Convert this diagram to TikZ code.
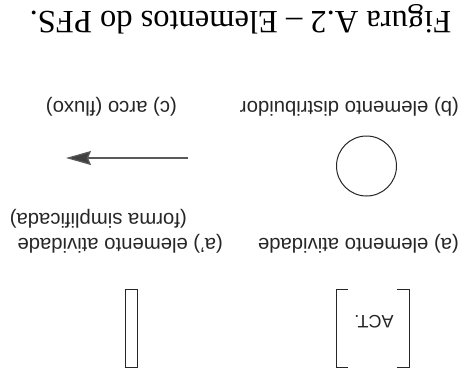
\documentclass[tikz,border=0pt]{standalone}
\usepackage{fontspec}
\setmainfont{Liberation Serif}
\setsansfont{Liberation Sans}
\usetikzlibrary{arrows.meta}
\begin{document}
\begin{tikzpicture}[x=1pt,y=-1pt,
  lbl/.style={font=\sffamily\fontsize{20.3}{24}\selectfont, rotate=180, inner sep=0pt, anchor=base west, text=black!85},
  ttl/.style={font=\rmfamily\fontsize{32.5}{38}\selectfont, rotate=180, inner sep=0pt, anchor=base},
  shp/.style={draw=black!85, line width=1pt}]
\fill[white] (0,0) rectangle (461,378);
\useasboundingbox (0,0) rectangle (461,378);
% title
\node[ttl] (title) at (240.5,11) {Figura A.2 -- Elementos do PFS.};
% labels
\node[lbl] (lb) at (459,101) {(b) elemento distribuidor};
\node[lbl] (lc) at (177,101) {(c) arco (fluxo)};
\node[lbl] (lf) at (187,213) {(forma simplificada)};
\node[lbl] (lap) at (223,238) {(a') elemento atividade};
\node[lbl] (la) at (459,238) {(a) elemento atividade};
% circle
\node[shp, circle, minimum size=60pt, inner sep=0pt] (dist) at (366.5,166) {};
% arrow
\coordinate (arrS) at (188,158);
\coordinate (arrE) at (66,158);
\draw[draw=black!65, line width=1.2pt, -{Stealth[length=25pt, width=14pt, inset=3pt, fill=black!75]}] (arrS) -- (arrE);
% bracket activity
\coordinate (bl1) at (348,289);
\coordinate (bl2) at (336,289);
\coordinate (bl3) at (336,367);
\coordinate (bl4) at (348,367);
\coordinate (br1) at (397,289);
\coordinate (br2) at (409,289);
\coordinate (br3) at (409,367);
\coordinate (br4) at (397,367);
\draw[shp] (bl1) -- (bl2) -- (bl3) -- (bl4);
\draw[shp] (br1) -- (br2) -- (br3) -- (br4);
\node[font=\sffamily\fontsize{18}{20}\selectfont, rotate=180, inner sep=0pt, text=black!85] (act) at (374,322) {ACT.};
% simplified activity
\node[shp, rectangle, minimum width=12pt, minimum height=78pt, inner sep=0pt] (simp) at (131,328) {};
\end{tikzpicture}
\end{document}
